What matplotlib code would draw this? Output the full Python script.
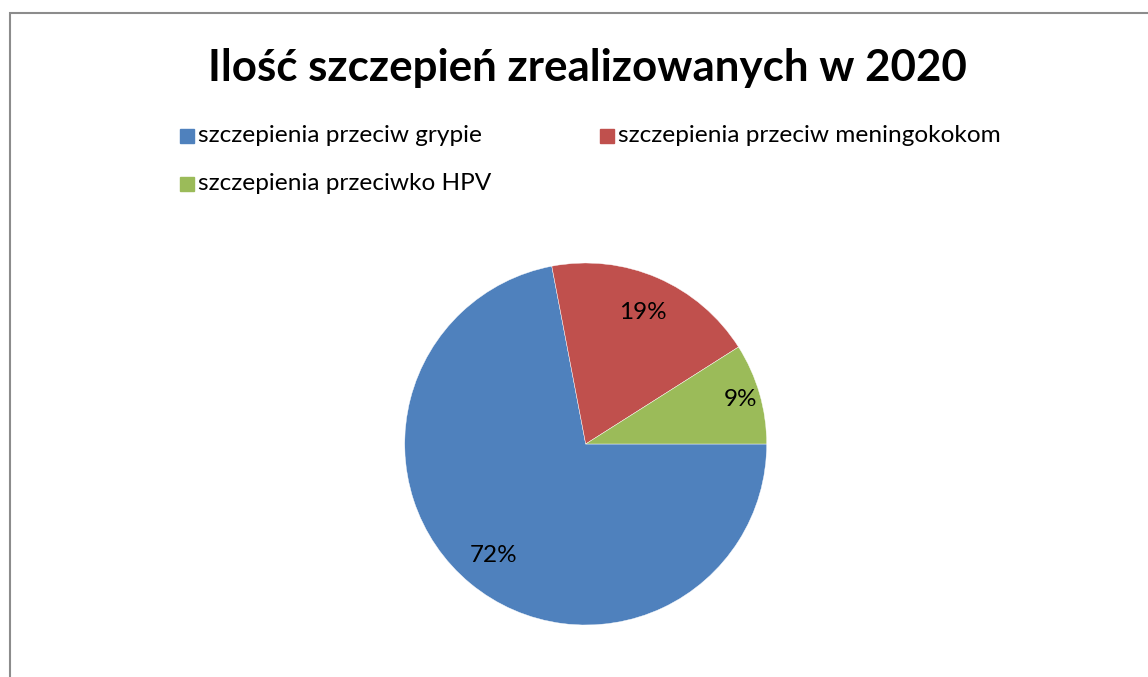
import matplotlib
matplotlib.use("Agg")
import matplotlib.pyplot as plt
from matplotlib.patches import Rectangle
import numpy as np

W, H = 1148, 677

labels = ["szczepienia przeciw grypie", "szczepienia przeciw meningokokom",
          "szczepienia przeciwko HPV"]
shares = [72, 19, 9]
colors = ["#4f81bd", "#c0504d", "#9bbb59"]
label_dist = [0.80, 0.79, 0.89]

plt.rcParams['font.family'] = ['Lato', 'DejaVu Sans']

fig = plt.figure(figsize=(W / 100, H / 100), dpi=100)


def fx(px):
    return px / W


def fy(py):
    return 1 - py / H


# chart area frame, runs off the right and bottom edges
fig.patches.append(Rectangle((fx(9.5), fy(H + 20)), fx(W + 20), fy(13) - fy(H + 20),
                             transform=fig.transFigure, fill=False,
                             edgecolor="#8c8c8c", linewidth=1.5))

fig.text(fx(587), fy(68), "Ilość szczepień zrealizowanych w 2020",
         ha="center", va="center", fontsize=31.6, fontweight="bold")

# legend
legend_pos = [(180, 136), (600, 136), (180, 184)]
for (x, y), lab, col in zip(legend_pos, labels, colors):
    fig.patches.append(Rectangle((fx(x), fy(y + 7)), fx(14), fy(y - 7) - fy(y + 7),
                                 transform=fig.transFigure, color=col))
    fig.text(fx(x + 18), fy(y), lab, ha="left", va="center", fontsize=17.6)

cx, cy, r = 585.7, 444, 181
ax = fig.add_axes([fx(cx - r), fy(cy + r), fx(2 * r), fy(cy - r) - fy(cy + r)])
wedges, _ = ax.pie(shares, colors=colors, startangle=0, counterclock=False,
                   radius=1, wedgeprops=dict(edgecolor="white", linewidth=0.3))
ax.set_xlim(-1, 1)
ax.set_ylim(-1, 1)
ax.set_aspect("equal")
ax.axis("off")

for w, val, d in zip(wedges, shares, label_dist):
    ang = np.deg2rad((w.theta1 + w.theta2) / 2)
    ax.text(d * np.cos(ang), d * np.sin(ang), f"{val}%", ha="center",
            va="center", fontsize=17.5)

fig.savefig("out.png", dpi=100)
